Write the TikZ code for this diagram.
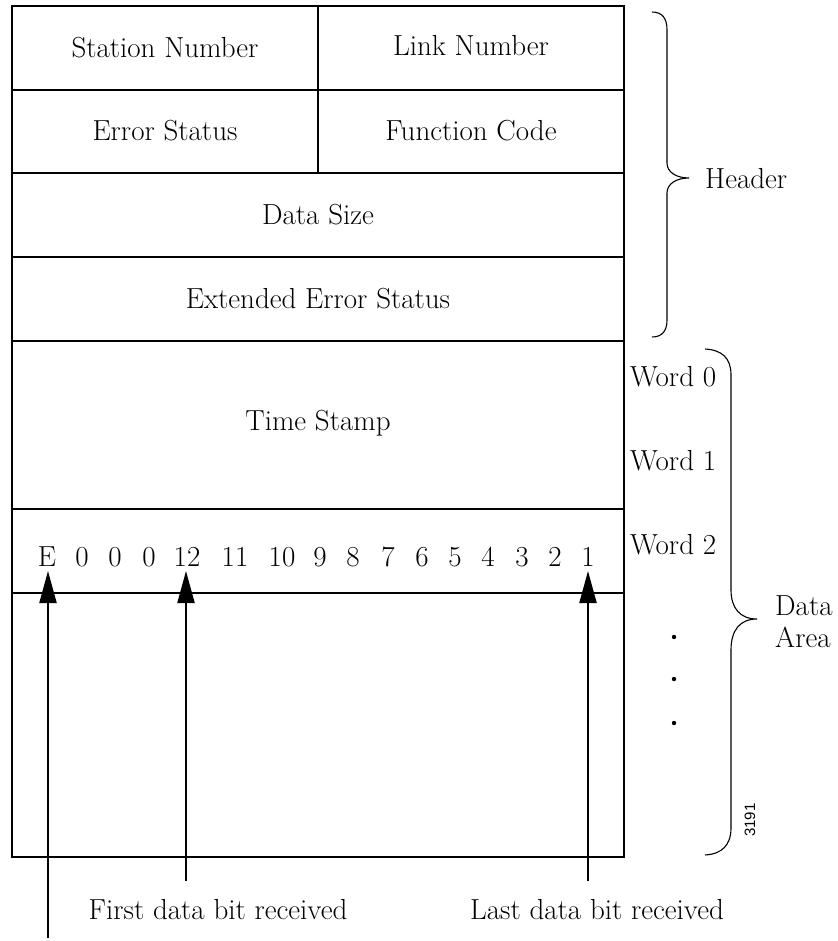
\documentclass[tikz,border=0pt]{standalone}
\usepackage{fontspec}
\newfontfamily\helv{Liberation Sans}
\usetikzlibrary{arrows.meta}
\begin{document}
\begin{tikzpicture}[x=1pt,y=-1pt,
  txt/.style={inner sep=0pt, font=\fontsize{29}{32}\selectfont},
  bit/.style={txt, anchor=base},
  frame/.style={line width=1.1pt},
  brace/.style={line width=1.1pt},
  arr/.style={line width=2.2pt, -{Triangle[width=17pt,length=32pt]}},
  plain/.style={line width=2.2pt}]
\useasboundingbox (0,0) rectangle (837,941);
\fill[white] (0,0) rectangle (837,941);
% frame
\draw[frame] (12,6) rectangle (624,857);
\draw[frame] (12,90) -- (624,90);
\draw[frame] (12,173) -- (624,173);
\draw[frame] (12,257) -- (624,257);
\draw[frame] (12,341) -- (624,341);
\draw[frame] (12,509) -- (624,509);
\draw[frame] (12,593) -- (624,593);
\draw[frame] (318,6) -- (318,173);
% field texts
\node[txt] (sn) at (165,48) {Station Number};
\node[txt] (ln) at (471,46) {Link Number};
\node[txt] (es) at (165,131) {Error Status};
\node[txt] (fc) at (471,131) {Function Code};
\node[txt] (ds) at (318,215) {Data Size};
\node[txt] (ees) at (318,299) {Extended Error Status};
\node[txt] (ts) at (318,423) {Time Stamp};
% bits
\node[bit] (bE) at (47,566) {E};
\node[bit] (b0a) at (82,566) {0};
\node[bit] (b0b) at (115,566) {0};
\node[bit] (b0c) at (149,566) {0};
\node[bit] (b12) at (187,566) {12};
\node[bit] (b11) at (235,566) {11};
\node[bit] (b10) at (282,566) {10};
\node[bit] (b9) at (320,566) {9};
\node[bit] (b8) at (353,566) {8};
\node[bit] (b7) at (388,566) {7};
\node[bit] (b6) at (422,566) {6};
\node[bit] (b5) at (455,566) {5};
\node[bit] (b4) at (488,566) {4};
\node[bit] (b3) at (522,566) {3};
\node[bit] (b2) at (555,566) {2};
\node[bit] (b1) at (588,566) {1};
% word labels
\node[txt, anchor=west] (w0) at (630,377) {Word 0};
\node[txt, anchor=west] (w1) at (630,461) {Word 1};
\node[txt, anchor=west] (w2) at (630,545) {Word 2};
% dots
\fill (674,637) circle (2.2);
\fill (674,679) circle (2.2);
\fill (674,723) circle (2.2);
% header brace
\draw[brace] (652,12) .. controls (662,12) and (667,18) .. (667,30)
  -- (667,163) .. controls (667,172) and (676,178) .. (689,178)
  .. controls (676,178) and (667,184) .. (667,193)
  -- (667,320) .. controls (667,331) and (662,337) .. (652,337);
\node[txt, anchor=west] (hdr) at (705,179) {Header};
% data brace
\draw[brace] (705,349) .. controls (722,350) and (731,358) .. (731,375)
  -- (731,590) .. controls (731,608) and (740,619) .. (757,619)
  .. controls (740,619) and (731,630) .. (731,650)
  -- (731,828) .. controls (731,845) and (722,854) .. (705,855);
\node[txt, anchor=west, align=left] (da) at (775,622) {Data\\Area};
% figure number
\node[inner sep=0pt, rotate=90, font=\helv\fontsize{15}{17}\selectfont] (fig) at (750,820) {3191};
% labels
\node[txt] (lf) at (218,910) {First data bit received};
\node[txt] (ll) at (597,910) {Last data bit received};
% arrows
\coordinate (eb) at (48,938);
\coordinate (tE) at (48,571);
\coordinate (t12) at (186,571);
\coordinate (t1) at (588,571);
\coordinate (s12) at (186,881);
\coordinate (s1) at (588,881);
\draw[arr] (eb) -- (tE);
\draw[arr] (s12) -- (t12);
\draw[arr] (s1) -- (t1);
\end{tikzpicture}
\end{document}
